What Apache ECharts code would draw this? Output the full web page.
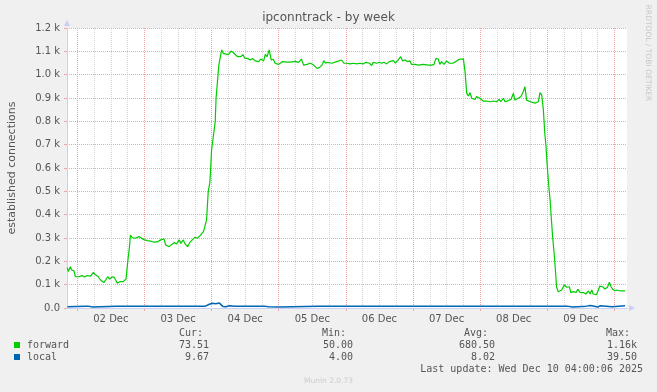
<!DOCTYPE html>
<html><head><meta charset="utf-8">
<script src="https://cdn.jsdelivr.net/npm/echarts@6/dist/echarts.min.js"></script>
<style>html,body{margin:0;padding:0;background:#f0f0f0;}#c{width:657px;height:392px;}</style>
</head><body><div id="c"></div>
<script>
// x values are hours since 01 Dec 00:00
const forward = [
[20.4,173],[20.8,156],[21.5,177],[22.0,163],[22.8,159],[23.3,134],[24.5,134],[25.7,139],[26.6,133],[27.5,139],
[28.7,137],[29.7,152],[30.5,142],[31.5,134],[32.3,120],[33.5,109],[34.1,107],[34.9,134],[35.6,124],[36.5,134],
[37.3,130],[38.3,106],[39.2,113],[40.4,113],[41.4,123],[41.9,127],[42.2,217],[42.6,256],[43.0,313],[43.6,302],
[44.2,309],[44.8,299],[45.4,303],[46.0,306],[46.6,299],[47.8,293],[49.0,289],[50.2,287],[51.4,282],[52.6,283],
[53.8,292],[55.0,296],[55.6,270],[56.8,263],[57.4,270],[58.6,280],[59.5,275],[60.4,292],[61.0,277],[61.9,292],
[62.4,277],[63.4,263],[64.3,282],[65.1,292],[66.0,303],[66.9,299],[67.9,310],[68.4,302],[69.1,327],[69.7,334],
[70.2,377],[70.8,499],[71.4,539],[72.0,677],[72.7,677],[73.3,799],[73.6,899],[74.1,899],[74.6,1041],[75.1,1041],
[75.6,1106],[76.2,1091],[76.8,1089],[78.0,1086],[79.0,1101],[79.8,1094],[80.4,1091],[81.3,1077],[82.4,1077],[83.2,1086],
[83.8,1071],[85.0,1069],[85.8,1063],[86.6,1069],[87.6,1059],[88.8,1056],[89.6,1067],[90.6,1059],[91.2,1087],[91.8,1077],
[92.6,1106],[93.3,1063],[94.1,1066],[94.7,1049],[95.9,1044],[97.4,1056],[98.9,1054],[100.1,1054],[100.7,1051],[101.9,1057],
[103.1,1053],[104.1,1067],[104.9,1041],[106.1,1044],[107.3,1049],[108.5,1041],[109.7,1027],[110.5,1030],[111.5,1041],[112.1,1060],
[112.7,1049],[113.5,1053],[114.2,1052],[115.0,1049],[115.5,1041],[116.7,1056],[117.3,1063],[118.5,1063],[119.3,1049],[120.3,1049],
[121.5,1046],[122.7,1049],[123.9,1046],[125.0,1049],[126.2,1046],[127.2,1053],[128.4,1049],[129.2,1039],[129.8,1053],[131.0,1049],
[132.0,1053],[132.8,1049],[133.6,1053],[134.6,1046],[135.5,1056],[136.0,1063],[137.0,1060],[137.7,1049],[138.7,1063],[139.6,1077],
[140.3,1059],[141.1,1063],[142.0,1056],[142.9,1059],[143.5,1044],[144.7,1044],[145.9,1041],[147.7,1044],[149.5,1041],[150.7,1041],
[151.5,1044],[152.2,1070],[153.0,1067],[153.6,1044],[154.2,1056],[155.1,1044],[156.0,1059],[157.0,1049],[158.2,1049],[159.3,1056],
[160.5,1066],[161.1,1070],[162.0,1068],[162.6,1013],[163.2,920],[163.8,909],[164.4,923],[165.0,899],[166.2,894],[166.7,906],
[167.9,899],[169.1,887],[170.3,887],[171.5,884],[172.7,887],[173.9,884],[174.7,894],[175.4,884],[176.3,899],[176.9,884],
[178.1,889],[179.0,894],[179.9,920],[180.4,891],[181.6,899],[182.6,906],[183.4,927],[184.0,949],[184.6,891],[185.2,884],
[186.4,882],[187.6,878],[188.8,884],[189.4,923],[190.0,913],[190.6,849],[191.1,749],[191.5,699],[192.0,606],[192.5,527],
[193.0,463],[193.4,391],[193.9,306],[194.4,241],[194.9,163],[195.3,91],[195.9,70],[197.1,77],[198.1,99],[198.9,89],
[199.9,91],[200.4,66],[201.3,70],[202.3,67],[202.9,80],[203.7,67],[204.9,66],[205.8,60],[206.7,73],[207.3,60],
[207.9,77],[208.4,60],[209.6,57],[210.2,51],[210.8,94],[211.8,91],[212.6,81],[213.5,89],[214.2,110],[214.8,91],
[215.4,80],[216.2,74],[217.0,77],[218.0,73],[218.9,74],[219.8,73.5]
];
const localHours = [20.5,21,27,27.3,27.8,29.5,30,38,38.3,38.8,69.8,70.3,71,72.2,73.5,74.8,75.5,76.1,77,78.5,80,83,83.3,84,89.8,90.2,90.8,91.5,92.3,93,96.5,97,110,110.3,110.8,137.8,138.2,138.7,154,154.3,155,199,199.3,201.1,201.4,206,206.3,207.4,208,210.1,210.9,211.5,215.2,215.6,219.8];
const localValues = [5,8,8,4,8,4,8,8,11,8,8,15,15,20,18,21,16,6,5,10,8,8,11,8,8,5,8,8,5,4,4,8,8,11,8,8,4,8,8,12,8,8,4,4,8,8,11,11,8,4,10,5,5,9,9.67];

const yTickLabels = ['0.0','0.1 k','0.2 k','0.3 k','0.4 k','0.5 k','0.6 k','0.7 k','0.8 k','0.9 k','1.0 k','1.1 k','1.2 k'];
const xDayLabels = ['02 Dec','03 Dec','04 Dec','05 Dec','06 Dec','07 Dec','08 Dec','09 Dec'];

const seriesNames = ['forward','local'];
const seriesColors = ['#00cc00','#0066b3'];
const curVals = ['73.51','9.67'];
const minVals = ['50.00','4.00'];
const avgVals = ['680.50','8.02'];
const maxVals = ['1.16k ','39.50 '];
const lastUpdate = 'Last update: Wed Dec 10 04:00:06 2025';

const X_MIN = 20.32, X_MAX = 220.49, FIRST_DAY = 24, LAST_DAY = 216;
const PX_PER_H = 2.7976;
const PL = 67, PT = 28, PW = 560, PH = 280;
const gl = PL + (FIRST_DAY - X_MIN) * PX_PER_H;
const gw = (LAST_DAY - FIRST_DAY) * PX_PER_H;

const RED = '#f3a3a3', GREY = '#d4d4d4', AXIS = '#c9d0f4', TXT = '#555';
const SANS = 'DejaVu Sans', MONO = 'DejaVu Sans Mono';

const chart = echarts.init(document.getElementById('c'), null, {renderer:'canvas'});

const gfx = [];
gfx.push({type:'text', x:328.5, y:18, style:{text:'ipconntrack - by week', font:'12px '+SANS, fill:TXT, textAlign:'center', textVerticalAlign:'middle'}});
gfx.push({type:'text', x:12, y:168, rotation:Math.PI/2, style:{text:'established connections', font:'11px '+SANS, fill:TXT, textAlign:'center', textVerticalAlign:'middle'}});
gfx.push({type:'text', x:648, y:53, rotation:-Math.PI/2, style:{text:'RRDTOOL / TOBI OETIKER', font:'7.5px '+SANS, fill:'#c8c8c8', textAlign:'center', textVerticalAlign:'middle'}});
gfx.push({type:'text', x:328.5, y:381, style:{text:'Munin 2.0.73', font:'7.5px '+SANS, fill:'#cccccc', textAlign:'center', textVerticalAlign:'middle'}});
const mono = (t, x, y, align) => ({type:'text', x:x, y:y, style:{text:t, font:'10px '+MONO, fill:TXT, textAlign:align, textVerticalAlign:'middle'}});
gfx.push(mono('Cur:', 203, 333, 'right'));
gfx.push(mono('Min:', 346, 333, 'right'));
gfx.push(mono('Avg:', 488, 333, 'right'));
gfx.push(mono('Max:', 630, 333, 'right'));
seriesNames.forEach((n, i) => {
  const y = 345 + i * 12;
  gfx.push({type:'rect', shape:{x:14, y:y-3, width:6, height:6}, style:{fill:seriesColors[i]}});
  gfx.push(mono(n, 27, y, 'left'));
  gfx.push(mono(curVals[i], 209, y, 'right'));
  gfx.push(mono(minVals[i], 353, y, 'right'));
  gfx.push(mono(avgVals[i], 495, y, 'right'));
  gfx.push(mono(maxVals[i], 643, y, 'right'));
});
gfx.push(mono(lastUpdate, 643, 369, 'right'));

const splitColors = [];
for (let h = FIRST_DAY; h <= LAST_DAY; h += 6) splitColors.push(h % 24 === 0 ? RED : GREY);

chart.setOption({
  animation:false,
  backgroundColor:'#f0f0f0',
  grid:[
    {left:PL, top:PT, width:PW, height:PH, show:true, backgroundColor:'#ffffff', borderWidth:0},
    {left:gl, top:PT, width:gw, height:PH, show:false}
  ],
  xAxis:[
    {type:'value', gridIndex:0, min:X_MIN, max:X_MAX, z:3,
     axisLine:{show:true, onZero:false, lineStyle:{color:AXIS, width:1}, symbol:['none','triangle'], symbolSize:[6,6], symbolOffset:[0,5]},
     axisTick:{show:false}, axisLabel:{show:false}, splitLine:{show:false}},
    {type:'value', gridIndex:1, min:FIRST_DAY, max:LAST_DAY, interval:6, position:'bottom', z:1,
     axisLine:{show:false}, axisTick:{show:false}, axisLabel:{show:false},
     splitLine:{show:true, lineStyle:{color:splitColors, type:[1,1], width:1}}},
    {type:'value', gridIndex:1, min:FIRST_DAY, max:LAST_DAY, interval:24, position:'bottom', z:1,
     axisLine:{show:false}, axisTick:{show:true, length:3, lineStyle:{color:RED}}, axisLabel:{show:false}, splitLine:{show:false}},
    {type:'value', gridIndex:1, min:FIRST_DAY, max:LAST_DAY, interval:12, position:'bottom',
     axisLine:{show:false}, axisTick:{show:false}, splitLine:{show:false},
     axisLabel:{show:true, margin:6, fontSize:10, fontFamily:SANS, color:TXT,
       formatter:(v) => (v % 24 === 12 ? (xDayLabels[(v - 36) / 24] || '') : '')}}
  ],
  yAxis:[
    {type:'value', gridIndex:0, min:0, max:1200, interval:100, z:2,
     axisLine:{show:true, lineStyle:{color:AXIS, width:1}, symbol:['none','triangle'], symbolSize:[6,6], symbolOffset:[0,5]},
     axisTick:{show:true, length:3, lineStyle:{color:RED}},
     axisLabel:{margin:7, fontSize:10, fontFamily:SANS, color:TXT, formatter:(v) => yTickLabels[Math.round(v / 100)]},
     splitLine:{show:true, showMinLine:false, lineStyle:{color:RED, type:[1,1], width:1}}},
    {type:'value', gridIndex:1, min:0, max:1200, show:false, splitLine:{show:false}}
  ],
  series:[
    {type:'line', name:'forward', xAxisIndex:0, yAxisIndex:0, data:forward, showSymbol:false, symbol:'none',
     lineStyle:{color:seriesColors[0], width:1.2}, z:5},
    {type:'line', name:'local', xAxisIndex:0, yAxisIndex:0, data:localHours.map((h, i) => [h, localValues[i]]), showSymbol:false, symbol:'none',
     lineStyle:{color:seriesColors[1], width:1.5}, z:6}
  ],
  graphic:gfx
});
</script></body></html>
